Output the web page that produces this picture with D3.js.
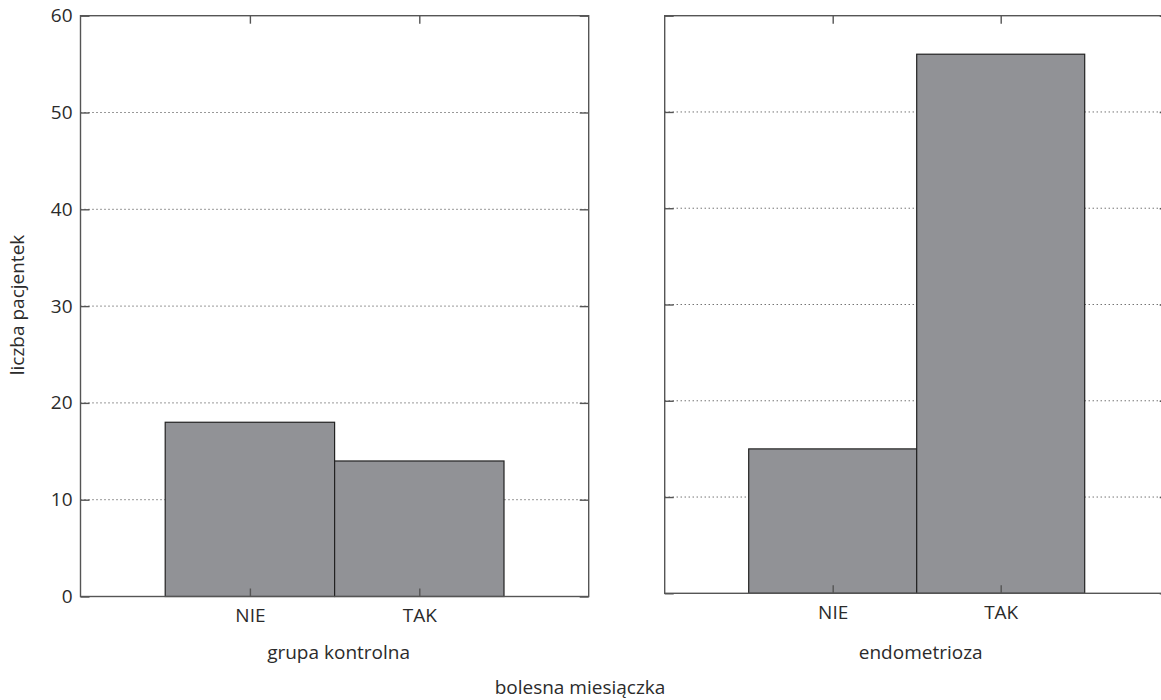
<!DOCTYPE html>
<html>
<head>
<meta charset="utf-8">
<script src="https://cdn.jsdelivr.net/npm/d3@7"></script>
<style>
  html, body { margin: 0; padding: 0; background: #fff; }
  svg text { font-family: "Open Sans", "Noto Sans", sans-serif; fill: #2b2b2b; }
</style>
</head>
<body>
<svg id="chart" width="1161" height="700"></svg>
<script>
const categories = ["NIE", "TAK"];
const groupNames = ["grupa kontrolna", "endometrioza"];
const controlValues = [18, 14];
const endoValues = [15, 56];
const yTicks = [0, 10, 20, 30, 40, 50, 60];
const gridTicks = [10, 20, 30, 40, 50];
const yTitle = "liczba pacjentek";
const xTitle = "bolesna miesiączka";

const svg = d3.select("#chart");

const panels = [
  { name: groupNames[0], values: controlValues, x0: 80.5, x1: 588.7, y0: 15.7, y1: 596.5, labels: true },
  { name: groupNames[1], values: endoValues, x0: 664.7, x1: 1168.7, y0: 15.7, y1: 593.3, labels: false }
];

const axisColor = "#555";
const fontSize = 19;

panels.forEach(p => {
  const x = d3.scalePoint().domain(categories).range([p.x0, p.x1]).padding(1);
  const y = d3.scaleLinear().domain([0, 60]).range([p.y1, p.y0]);
  const bw = x.step();
  const g = svg.append("g");

  g.selectAll("line.grid").data(gridTicks).join("line")
    .attr("class", "grid")
    .attr("x1", p.x0).attr("x2", p.x1)
    .attr("y1", d => y(d)).attr("y2", d => y(d))
    .attr("stroke", "#333").attr("stroke-width", 1)
    .attr("stroke-dasharray", "1,3");

  g.selectAll("rect.bar").data(categories.map((c, i) => ({ c, v: p.values[i] }))).join("rect")
    .attr("class", "bar")
    .attr("x", d => x(d.c) - bw / 2)
    .attr("width", bw)
    .attr("y", d => y(d.v))
    .attr("height", d => y(0) - y(d.v))
    .attr("fill", "#919296")
    .attr("stroke", "#222")
    .attr("stroke-width", 1.2);

  const styleAxis = sel => {
    sel.select(".domain").remove();
    sel.selectAll(".tick line").attr("stroke", axisColor).attr("stroke-width", 1.4);
    sel.selectAll(".tick text").attr("font-size", fontSize).attr("fill", "#2b2b2b");
  };

  const la = g.append("g").attr("transform", `translate(${p.x0},0)`)
    .call(d3.axisLeft(y).tickValues(yTicks).tickSizeInner(-9).tickSizeOuter(0).tickPadding(8)
      .tickFormat(p.labels ? d3.format("d") : () => ""));
  styleAxis(la);
  const ra = g.append("g").attr("transform", `translate(${p.x1},0)`)
    .call(d3.axisRight(y).tickValues(yTicks).tickSizeInner(-9).tickSizeOuter(0).tickFormat(() => ""));
  styleAxis(ra);
  const ba = g.append("g").attr("transform", `translate(0,${p.y1})`)
    .call(d3.axisBottom(x).tickSizeInner(-8).tickSizeOuter(0).tickPadding(12));
  styleAxis(ba);
  const ta = g.append("g").attr("transform", `translate(0,${p.y0})`)
    .call(d3.axisTop(x).tickSizeInner(-8).tickSizeOuter(0).tickFormat(() => ""));
  styleAxis(ta);

  g.append("rect")
    .attr("x", p.x0).attr("y", p.y0)
    .attr("width", p.x1 - p.x0).attr("height", p.y1 - p.y0)
    .attr("fill", "none").attr("stroke", axisColor).attr("stroke-width", 1.4);

  g.append("text")
    .attr("x", (p.x0 + p.x1) / 2 + 4)
    .attr("y", 659)
    .attr("text-anchor", "middle")
    .attr("font-size", fontSize)
    .text(p.name);
});

svg.append("text")
  .attr("transform", "translate(24,305) rotate(-90)")
  .attr("text-anchor", "middle")
  .attr("font-size", fontSize)
  .text(yTitle);

svg.append("text")
  .attr("x", 580)
  .attr("y", 694)
  .attr("text-anchor", "middle")
  .attr("font-size", fontSize)
  .text(xTitle);
</script>
</body>
</html>
